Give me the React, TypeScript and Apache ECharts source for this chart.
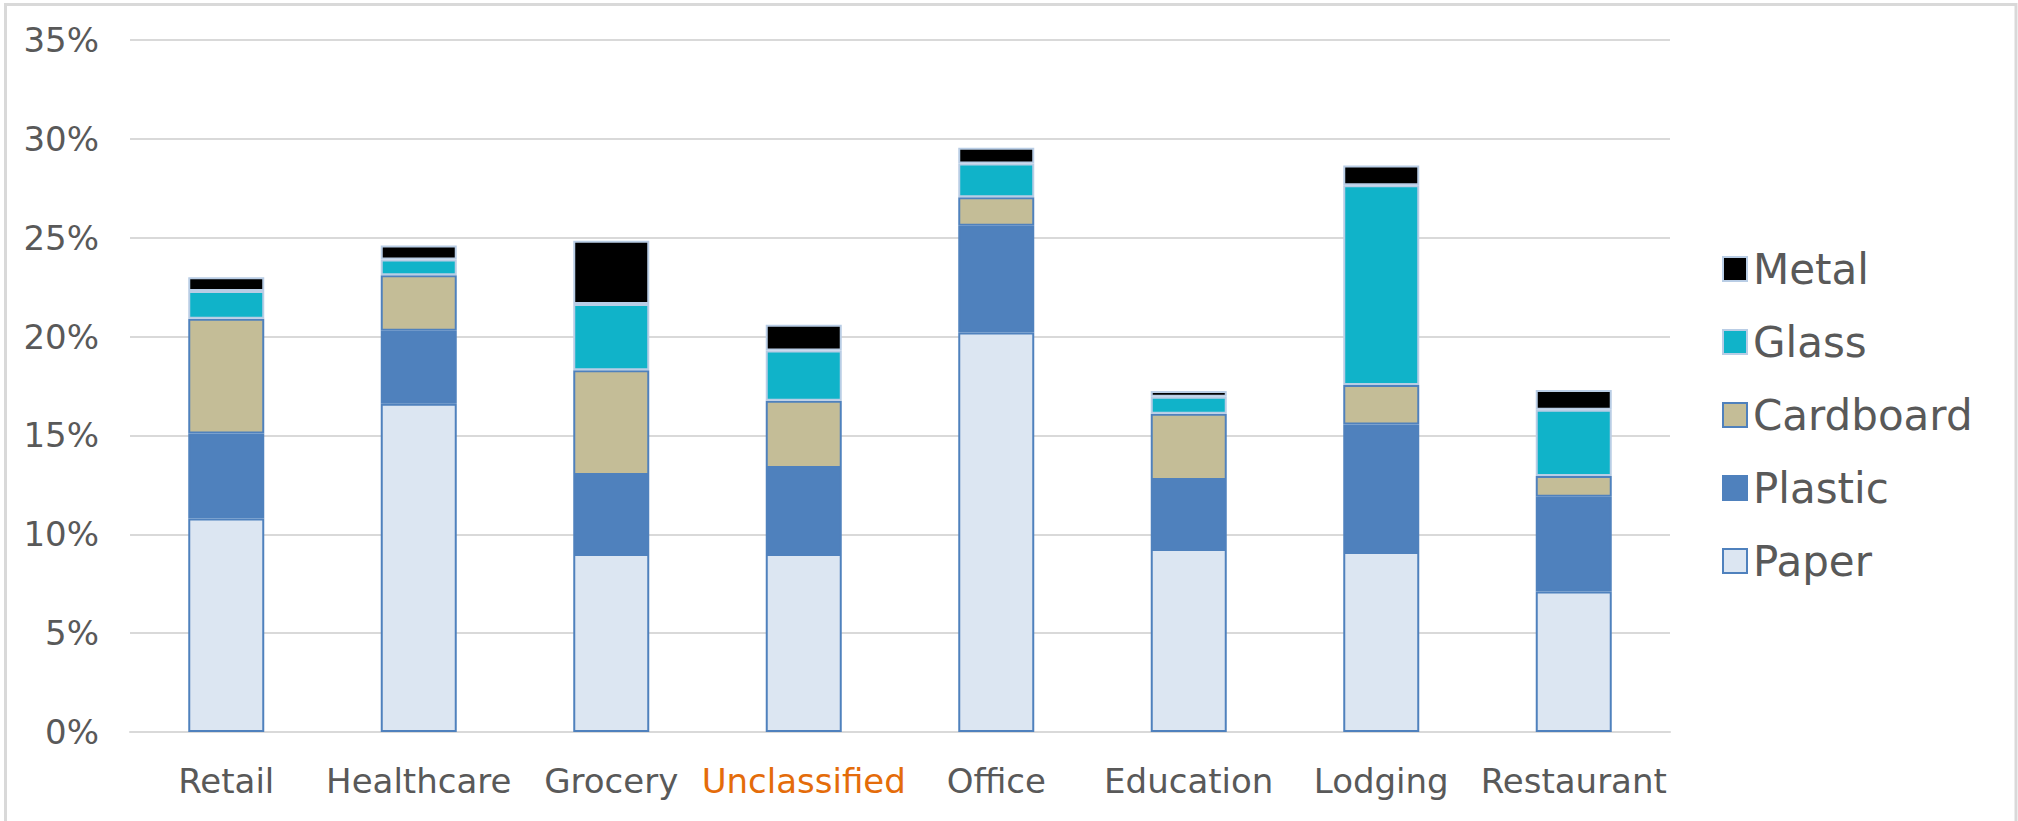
import React, { useEffect, useRef } from "react";
import * as echarts from "echarts";

const categories = ["Retail", "Healthcare", "Grocery", "Unclassified", "Office", "Education", "Lodging", "Restaurant"];
const paper = [10.8, 16.6, 9.0, 9.0, 20.2, 9.25, 9.1, 7.1];
const plastic = [4.3, 3.7, 4.0, 4.35, 5.4, 3.5, 6.45, 4.8];
const cardboard = [5.8, 2.8, 5.3, 3.4, 1.45, 3.35, 2.0, 1.05];
const glass = [1.4, 0.8, 3.35, 2.55, 1.7, 0.85, 10.1, 3.35];
const metal = [0.7, 0.7, 3.2, 1.3, 0.8, 0.3, 1.0, 1.0];
const yTicks = { min: 0, max: 35, interval: 5 };
const highlighted = "Unclassified";

const FONT = "DejaVu Sans";
const TEXT = "#595959";

export default function App() {
  const ref = useRef<HTMLDivElement>(null);
  useEffect(() => {
    document.body.style.margin = "0";
    const chart = echarts.init(ref.current!, null, { renderer: "svg" });
    const mk = (name: string, data: number[], color: string, border: string) => ({
      name,
      type: "bar",
      stack: "total",
      data,
      barWidth: 76,
      itemStyle: { color, borderColor: border, borderWidth: 2 },
    });
    chart.setOption({
      animation: false,
      backgroundColor: "#ffffff",
      textStyle: { fontFamily: FONT },
      graphic: [
        {
          type: "rect",
          silent: true,
          shape: { x: 5.5, y: 4.5, width: 2010.5, height: 840 },
          style: { fill: "none", stroke: "#D9D9D9", lineWidth: 3 },
        },
      ],
      grid: { left: 130, right: 348, top: 40, bottom: 89, containLabel: false },
      legend: {
        orient: "vertical",
        left: 1722,
        top: 247,
        padding: 0,
        icon: "rect",
        itemWidth: 24,
        itemHeight: 24,
        itemGap: 29,
        data: ["Metal", "Glass", "Cardboard", "Plastic", "Paper"],
        textStyle: { fontFamily: FONT, fontSize: 42, color: TEXT, lineHeight: 44, padding: [0, 0, 0, 1] },
      },
      xAxis: {
        type: "category",
        data: categories.map((c) =>
          c === highlighted ? { value: c, textStyle: { color: "#E46C0A" } } : c
        ),
        axisLine: { show: true, lineStyle: { color: "#D9D9D9", width: 2 } },
        axisTick: { show: false },
        axisLabel: { fontFamily: FONT, fontSize: 34, color: TEXT, margin: 32, interval: 0 },
      },
      yAxis: {
        type: "value",
        min: yTicks.min,
        max: yTicks.max,
        interval: yTicks.interval,
        axisLine: { show: false },
        axisTick: { show: false },
        axisLabel: { fontFamily: FONT, fontSize: 34, color: TEXT, margin: 31, formatter: "{value}%" },
        splitLine: { lineStyle: { color: "#D9D9D9", width: 2 } },
      },
      series: [
        mk("Paper", paper, "#DCE6F2", "#4F81BD"),
        mk("Plastic", plastic, "#4F81BD", "#4F81BD"),
        mk("Cardboard", cardboard, "#C4BD97", "#4F81BD"),
        mk("Glass", glass, "#10B3C9", "#B9CDE5"),
        mk("Metal", metal, "#000000", "#B9CDE5"),
      ],
    });
    return () => chart.dispose();
  }, []);
  return <div ref={ref} style={{ width: 2018, height: 821 }} />;
}
